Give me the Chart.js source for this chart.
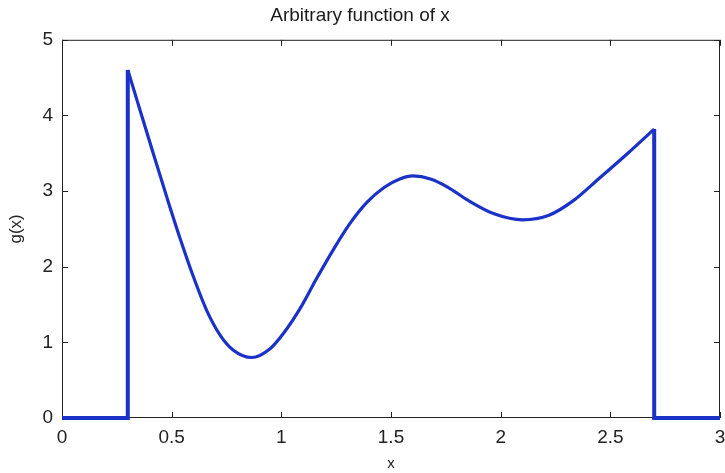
<!DOCTYPE html>
<html>
<head>
<meta charset="utf-8">
<script src="https://cdn.jsdelivr.net/npm/chart.js@4.4.0/dist/chart.umd.min.js"></script>
<style>
  html, body { margin: 0; padding: 0; background: #fff; }
  #wrap { width: 725px; height: 473px; }
</style>
</head>
<body>
<div id="wrap"><canvas id="fnChart" width="725" height="473"></canvas></div>
<script>
// ===============================
// DATA
// ===============================
const xTicks = [0, 0.5, 1, 1.5, 2, 2.5, 3];
const yTicks = [0, 1, 2, 3, 4, 5];

// zero stretches and the two vertical jumps
const leftEdgeX = [0, 0.3, 0.3];
const leftEdgeY = [0, 0, 4.6];
const rightEdgeX = [2.7, 2.7, 3];
const rightEdgeY = [3.82, 0, 0];

// the smooth part between x = 0.3 and x = 2.7
const curveX = [0.3, 0.36, 0.42, 0.48, 0.54, 0.6, 0.66, 0.72, 0.78, 0.865, 0.95, 1.01, 1.09, 1.16, 1.24,
  1.31, 1.39, 1.47, 1.54, 1.6, 1.68, 1.76, 1.85, 1.97, 2.1, 2.22, 2.33, 2.45, 2.58, 2.7];
const curveY = [4.6, 4.03, 3.46, 2.9, 2.36, 1.86, 1.42, 1.1, 0.9, 0.8, 0.92, 1.12, 1.47, 1.84, 2.24,
  2.56, 2.85, 3.05, 3.16, 3.2, 3.16, 3.05, 2.88, 2.7, 2.62, 2.68, 2.87, 3.17, 3.5, 3.82];

const toPoints = (xs, ys) => xs.map((x, i) => ({ x, y: ys[i] }));

const FONT = "'Liberation Sans', Arial, sans-serif";
const LINE = "#1b32c8";

// box round the plot with inward ticks on every side (matlab style)
const boxPlugin = {
  id: "box",
  beforeDatasetsDraw(chart) {
    const { ctx, chartArea: a, scales } = chart;
    const len = 6;
    ctx.save();
    ctx.strokeStyle = "#222";
    ctx.lineWidth = 1;
    ctx.strokeRect(a.left + 0.5, a.top + 0.5, a.right - a.left - 1, a.bottom - a.top - 1);
    ctx.beginPath();
    xTicks.forEach(v => {
      const px = Math.round(scales.x.getPixelForValue(v)) + 0.5;
      ctx.moveTo(px, a.bottom); ctx.lineTo(px, a.bottom - len);
      ctx.moveTo(px, a.top); ctx.lineTo(px, a.top + len);
    });
    yTicks.forEach(v => {
      const py = Math.round(scales.y.getPixelForValue(v)) + 0.5;
      ctx.moveTo(a.left, py); ctx.lineTo(a.left + len, py);
      ctx.moveTo(a.right, py); ctx.lineTo(a.right - len, py);
    });
    ctx.stroke();
    ctx.restore();
  }
};

new Chart(document.getElementById("fnChart"), {
  type: "scatter",
  data: {
    datasets: [
      {
        data: toPoints(leftEdgeX, leftEdgeY),
        showLine: true, borderColor: LINE, borderWidth: 4, pointRadius: 0,
        tension: 0, clip: false
      },
      {
        data: toPoints(rightEdgeX, rightEdgeY),
        showLine: true, borderColor: LINE, borderWidth: 4, pointRadius: 0,
        tension: 0, clip: false
      },
      {
        data: toPoints(curveX, curveY),
        showLine: true, borderColor: LINE, borderWidth: 3.2, pointRadius: 0,
        cubicInterpolationMode: "monotone", clip: false
      }
    ]
  },
  options: {
    responsive: false,
    animation: false,
    devicePixelRatio: 1,
    layout: { padding: { left: 0, right: 5, top: 0, bottom: 0 } },
    plugins: {
      legend: { display: false },
      tooltip: { enabled: false },
      title: {
        display: true,
        text: "Arbitrary function of x",
        color: "#1a1a1a",
        font: { family: FONT, size: 19, weight: "normal" },
        padding: { top: 4, bottom: 13 }
      }
    },
    scales: {
      x: {
        type: "linear",
        min: 0, max: 3,
        grid: { display: false, drawTicks: false },
        border: { display: false },
        ticks: {
          stepSize: 0.5, padding: 8, color: "#222", maxRotation: 0,
          font: { family: FONT, size: 19 },
          callback: v => String(v)
        },
        title: {
          display: true, text: "x", color: "#222",
          font: { family: FONT, size: 15 }, padding: { top: 0, bottom: 0 }
        },
        afterFit(scale) {
          scale.height = 55;
          scale.paddingLeft = 0;
          scale.paddingRight = 0;
        }
      },
      y: {
        type: "linear",
        min: 0, max: 5,
        grid: { display: false, drawTicks: false },
        border: { display: false },
        ticks: {
          stepSize: 1, padding: 9, color: "#222",
          font: { family: FONT, size: 19 },
          callback: v => String(v)
        },
        title: {
          display: true, text: "g(x)", color: "#222",
          font: { family: FONT, size: 17 }, padding: { top: 6, bottom: 0 }
        },
        afterFit(scale) {
          scale.width = 62;
          scale.paddingTop = 0;
          scale.paddingBottom = 0;
        }
      }
    }
  },
  plugins: [boxPlugin]
});
</script>
</body>
</html>
